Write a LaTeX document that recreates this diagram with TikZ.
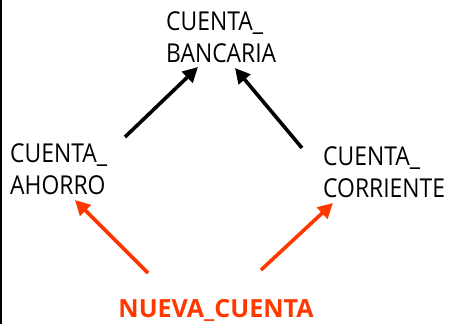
\documentclass[tikz,border=0pt]{standalone}
\usepackage{fontspec}
\setmainfont{Open Sans}
\newfontfamily\lblfont{Open Sans}[FakeStretch=0.88]
\usetikzlibrary{arrows.meta}
\definecolor{nred}{RGB}{255,56,0}
\begin{document}
\begin{tikzpicture}[x=1pt,y=1pt,
  lbl/.style={anchor=base west,inner sep=0pt,align=left,font=\lblfont\fontsize{26}{32.5}\selectfont},
  blk/.style={line width=3.6pt,-{Triangle[length=15pt,width=15pt]}},
  redarr/.style={blk,draw=nred,fill=nred}]
\useasboundingbox (0,0) rectangle (452,324);
\draw[line width=2pt] (1,0) -- (1,324);
\node[lbl] (banc) at (166,261) {CUENTA\_\\BANCARIA};
\node[lbl] (ahor) at (10,129) {CUENTA\_\\AHORRO};
\node[lbl] (corr) at (323,126) {CUENTA\_\\CORRIENTE};
\node[anchor=base,inner sep=0pt,text=nred,font=\fontsize{25}{28}\selectfont\bfseries] (nueva) at (216,7) {NUEVA\_CUENTA};
\coordinate (a1) at (125,187);
\coordinate (a2) at (198,257);
\coordinate (b1) at (302,176);
\coordinate (b2) at (235,256);
\coordinate (c1) at (148,51);
\coordinate (c2) at (75,124);
\coordinate (d1) at (261,54);
\coordinate (d2) at (333,121);
\draw[blk] (a1) -- (a2);
\draw[blk] (b1) -- (b2);
\draw[redarr] (c1) -- (c2);
\draw[redarr] (d1) -- (d2);
\end{tikzpicture}
\end{document}
